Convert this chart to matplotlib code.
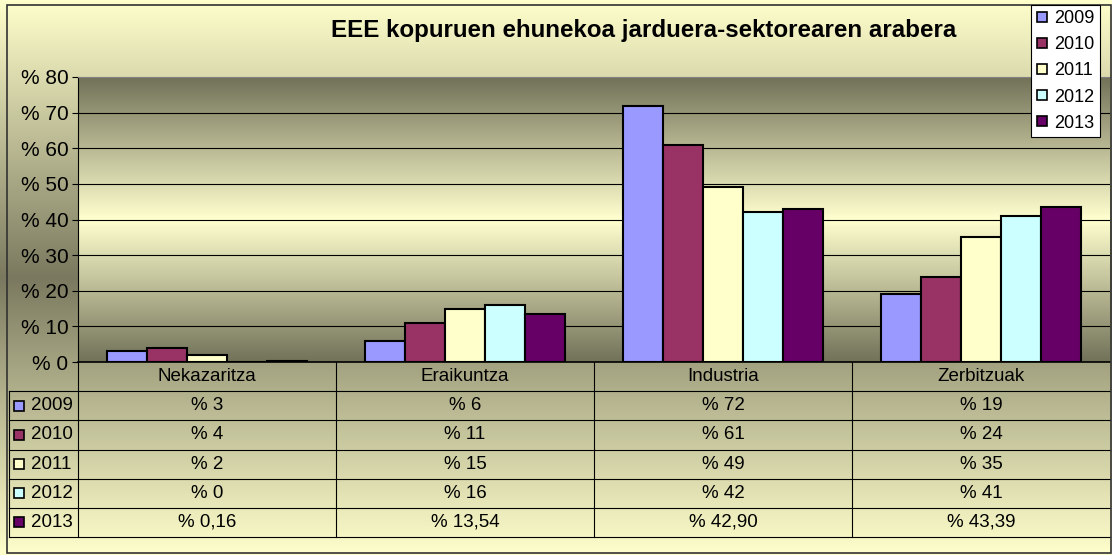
import numpy as np
import matplotlib
matplotlib.use('Agg')
import matplotlib.pyplot as plt
from matplotlib.patches import Rectangle
from matplotlib.lines import Line2D

# datuak
categories = ['Nekazaritza', 'Eraikuntza', 'Industria', 'Zerbitzuak']
years = ['2009', '2010', '2011', '2012', '2013']
v2009 = [3, 6, 72, 19]
v2010 = [4, 11, 61, 24]
v2011 = [2, 15, 49, 35]
v2012 = [0, 16, 42, 41]
v2013 = [0.16, 13.54, 42.90, 43.39]
series = [v2009, v2010, v2011, v2012, v2013]
decimals = [0, 0, 0, 0, 2]
colors = ['#9999ff', '#993366', '#ffffcc', '#ccffff', '#660066']
yticks = [0, 10, 20, 30, 40, 50, 60, 70, 80]
title = 'EEE kopuruen ehunekoa jarduera-sektorearen arabera'

W, H = 1112, 555
plt.rcParams['font.family'] = ['Liberation Sans', 'DejaVu Sans']

fig = plt.figure(figsize=(W / 100, H / 100), dpi=100)


def box(x0, y0, x1, y1):
    # pixel box (top-left origin) -> figure fraction
    return [x0 / W, 1 - y1 / H, (x1 - x0) / W, (y1 - y0) / H]


def gradient(edge, middle, n=256):
    # one colour at both edges, the other in the middle
    t = np.abs(np.linspace(-1, 1, n))[:, None, None]
    edge = np.array(matplotlib.colors.to_rgb(edge))
    middle = np.array(matplotlib.colors.to_rgb(middle))
    return middle + (edge - middle) * t


# atzeko planoa
bg = fig.add_axes([0, 0, 1, 1], zorder=-10)
bg.imshow(gradient('#ffffcc', '#7a795f'), aspect='auto', extent=[0, 1, 0, 1])
bg.axis('off')

# grafikoa
ax = fig.add_axes(box(78, 77, 1110, 362))
ax.imshow(gradient('#727259', '#ffffcf'), aspect='auto',
          extent=[-0.5, 3.5, 0, 80], zorder=0)
ax.set_xlim(-0.5, 3.5)
ax.set_ylim(0, 80)

x = np.arange(len(categories))
width = 0.155
for i, (vals, c) in enumerate(zip(series, colors)):
    ax.bar(x + (i - 2) * width, vals, width, color=c, edgecolor='black',
           linewidth=1.5, zorder=3)

ax.hlines(yticks[1:-1], -0.5, 3.5, colors='black', lw=0.8, zorder=1)
ax.set_yticks(yticks)
ax.set_yticklabels([f'% {t}' for t in yticks])
ax.tick_params(axis='y', length=4, width=0.8, labelsize=15, pad=3)
ax.set_xticks([])
ax.spines['right'].set_visible(False)
ax.spines['top'].set_color('#808080')
ax.spines['top'].set_linewidth(0.8)
ax.spines['left'].set_linewidth(0.8)
ax.spines['bottom'].set_linewidth(1.2)

# datu-taula
tab = fig.add_axes(box(78, 362, 1110, 537))
tab.set_xlim(-0.5, 3.5)
tab.set_ylim(6, 0)
tab.axis('off')
px = 4 / 1032  # data units per pixel
xl = -0.5 - 69 * px

for r in range(1, 7):
    tab.plot([xl, 3.5], [r, r], color='black', lw=0.8, clip_on=False)
for b in [-0.5, 0.5, 1.5, 2.5]:
    tab.plot([b, b], [0, 6], color='black', lw=0.8, clip_on=False)
tab.plot([xl, xl], [1, 6], color='black', lw=0.8, clip_on=False)

for i, cat in enumerate(categories):
    tab.text(i, 0.5, cat, ha='center', va='center', fontsize=13.5)

for r, (yr, vals, d, c) in enumerate(zip(years, series, decimals, colors)):
    row = r + 1.5
    tab.plot([xl + 10 * px], [row], marker='s', ms=7, mfc=c, mec='black',
             mew=1.2, clip_on=False)
    tab.text(xl + 22 * px, row, yr, ha='left', va='center', fontsize=13.5)
    for i, v in enumerate(vals):
        s = '% ' + f'{v:.{d}f}'.replace('.', ',')
        tab.text(i, row, s, ha='center', va='center', fontsize=13.5)

# izenburua
fig.text(643.5 / W, 1 - 31 / H, title, ha='center', va='center',
         fontsize=17.4, fontweight='bold')

# legenda
handles = [Line2D([], [], marker='s', ls='', mfc=c, mec='black', mew=1.2, ms=7)
           for c in colors]
leg = fig.legend(handles, years, loc='upper right',
                 bbox_to_anchor=(1100 / W, 1 - 5 / H), fontsize=13,
                 frameon=True, fancybox=False, edgecolor='black',
                 handlelength=0.7, handletextpad=0.3, labelspacing=0.5,
                 borderpad=0.3, borderaxespad=0)
leg.get_frame().set_linewidth(0.8)
leg.get_frame().set_facecolor('white')
leg.get_frame().set_alpha(1)

# kanpoko ertza
fig.add_artist(Rectangle((7 / W, 2 / H), 1104 / W, 548 / H, fill=False,
                         edgecolor='#333333', lw=1.2,
                         transform=fig.transFigure))

fig.savefig('out.png', dpi=100)
